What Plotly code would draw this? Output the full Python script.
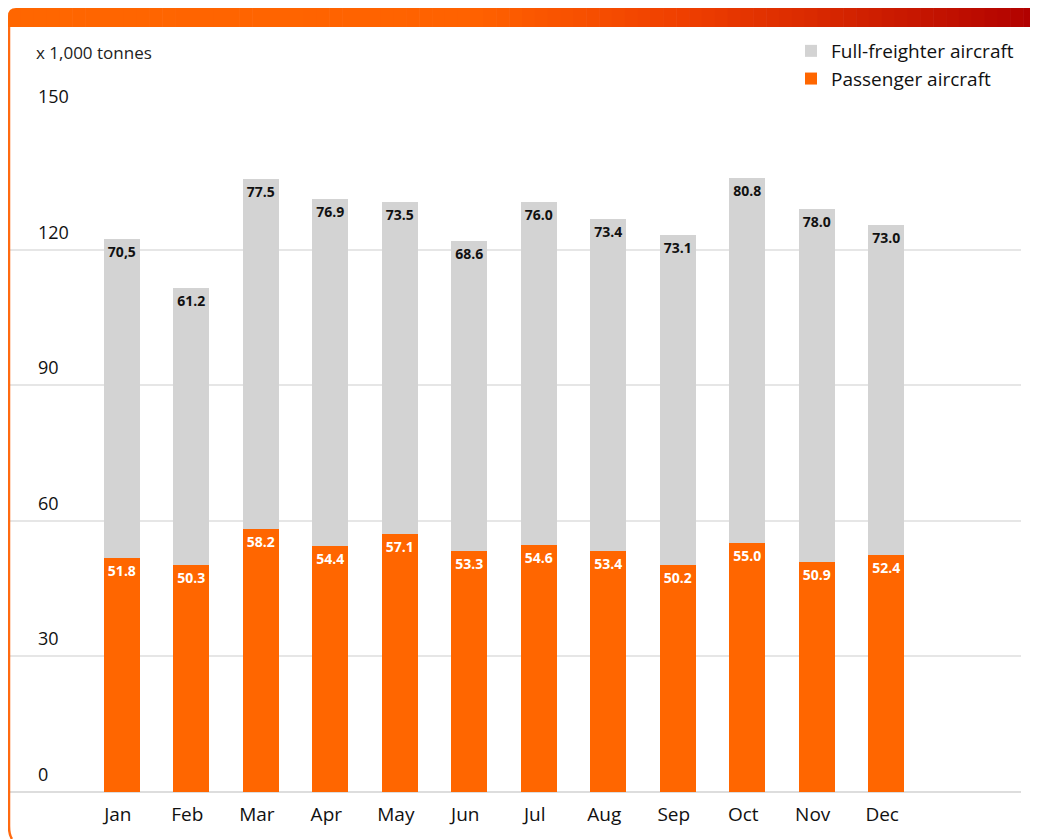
import plotly.graph_objects as go

# the page body has an 8px margin, so the figure is shrunk and shifted by it
OFF = 8
W, H = 1038 - OFF, 839 - OFF

months = ["Jan", "Feb", "Mar", "Apr", "May", "Jun", "Jul", "Aug", "Sep", "Oct", "Nov", "Dec"]
passenger = [51.8, 50.3, 58.2, 54.4, 57.1, 53.3, 54.6, 53.4, 50.2, 55.0, 50.9, 52.4]
freighter = [70.5, 61.2, 77.5, 76.9, 73.5, 68.6, 76.0, 73.4, 73.1, 80.8, 78.0, 73.0]
freighter_labels = ["70,5", "61.2", "77.5", "76.9", "73.5", "68.6", "76.0", "73.4", "73.1", "80.8", "78.0", "73.0"]
y_ticks = [0, 30, 60, 90, 120, 150]

ORANGE = "#FF6600"
GREY = "#D3D3D3"

# header band colour stops (position along band, rgb)
band_stops = [(0.0, (255, 102, 0)), (0.45, (255, 98, 0)), (0.65, (240, 64, 0)),
              (0.78, (218, 42, 0)), (1.0, (176, 0, 0))]


def px(x):
    return (x - OFF) / W


def py(y):
    return 1 - (y - OFF) / H


def band_color(t):
    for (t0, c0), (t1, c1) in zip(band_stops[:-1], band_stops[1:]):
        if t <= t1:
            f = (t - t0) / (t1 - t0)
            return "rgb(%d,%d,%d)" % tuple(round(a + (b - a) * f) for a, b in zip(c0, c1))
    return "rgb(%d,%d,%d)" % band_stops[-1][1]


idx = list(range(len(months)))

fig = go.Figure()

fig.add_trace(go.Bar(
    x=idx, y=passenger, name="Passenger aircraft",
    marker=dict(color=ORANGE, line=dict(width=0)),
    width=0.52,
    text=[f"{v:.1f}" for v in passenger],
    textposition="inside", insidetextanchor="end", textangle=0,
    constraintext="none",
    textfont=dict(family="Open Sans", size=14, color="white", weight="bold"),
    hoverinfo="skip",
))
fig.add_trace(go.Bar(
    x=idx, y=freighter, name="Full-freighter aircraft",
    marker=dict(color=GREY, line=dict(width=0)),
    width=0.52,
    text=freighter_labels,
    textposition="inside", insidetextanchor="end", textangle=0,
    constraintext="none",
    textfont=dict(family="Open Sans", size=14, color="#111111", weight="bold"),
    hoverinfo="skip",
))

# y tick labels sit above their gridlines
for t in y_ticks:
    fig.add_annotation(
        x=px(36), xref="paper", y=t, yref="y",
        text=str(t), showarrow=False, xanchor="left", yanchor="bottom",
        yshift=4, font=dict(family="Open Sans", size=18, color="#111111"),
    )

fig.add_annotation(
    x=px(34), xref="paper", y=py(52), yref="paper",
    text="x 1,000 tonnes", showarrow=False, xanchor="left", yanchor="middle",
    font=dict(family="Open Sans", size=17, color="#222222"),
)

# card frame: orange left border and gradient header band
fig.add_shape(type="path", xref="paper", yref="paper",
              path=f"M {px(9)} {py(16)} L {px(9)} {py(826)} Q {px(9)} {py(835)} {px(12)} {py(839)}",
              line=dict(color="#FF6A10", width=2.5), layer="above")
steps = 80
x0, x1 = 8, 1036
for i in range(steps):
    xa = x0 + (x1 - x0) * i / steps
    xb = x0 + (x1 - x0) * (i + 1) / steps + 0.6
    col = band_color((i + 0.5) / steps)
    if i == 0:
        fig.add_shape(type="path", xref="paper", yref="paper",
                      path=f"M {px(xa)} {py(27)} L {px(xa)} {py(16)} Q {px(xa)} {py(8)} {px(xa + 8)} {py(8)} L {px(xb)} {py(8)} L {px(xb)} {py(27)} Z",
                      fillcolor=col, line=dict(width=0), layer="above")
    else:
        fig.add_shape(type="rect", xref="paper", yref="paper",
                      x0=px(xa), x1=px(xb), y0=py(27), y1=py(5),
                      fillcolor=col, line=dict(width=0), layer="above")

fig.update_layout(
    width=W, height=H,
    autosize=False,
    margin=dict(l=0, r=0, t=0, b=0),
    paper_bgcolor="white", plot_bgcolor="white",
    barmode="stack",
    font=dict(family="Open Sans", color="#111111"),
    showlegend=True,
    legend=dict(
        x=px(1019), xanchor="right", y=py(32), yanchor="top",
        traceorder="reversed",
        font=dict(family="Open Sans", size=19, color="#111111"),
        itemsizing="constant", tracegroupgap=0,
        bgcolor="rgba(0,0,0,0)",
    ),
    xaxis=dict(
        domain=[px(10), px(1021)],
        range=[-1.61, 12.94],
        tickmode="array", tickvals=idx, ticktext=months,
        tickfont=dict(family="Open Sans", size=19, color="#111111"),
        ticklabelstandoff=9, ticklabelshift=-4,
        showgrid=False, showline=False, zeroline=False, ticks="",
        fixedrange=True,
    ),
    yaxis=dict(
        domain=[py(792), py(114)],
        range=[0, 150],
        tickvals=y_ticks, showticklabels=False,
        showgrid=True, gridcolor="#E6E6E6", gridwidth=1.5,
        zeroline=True, zerolinecolor="#DDDDDD", zerolinewidth=2,
        showline=False, ticks="", fixedrange=True,
    ),
)

fig.write_html("out.html")
